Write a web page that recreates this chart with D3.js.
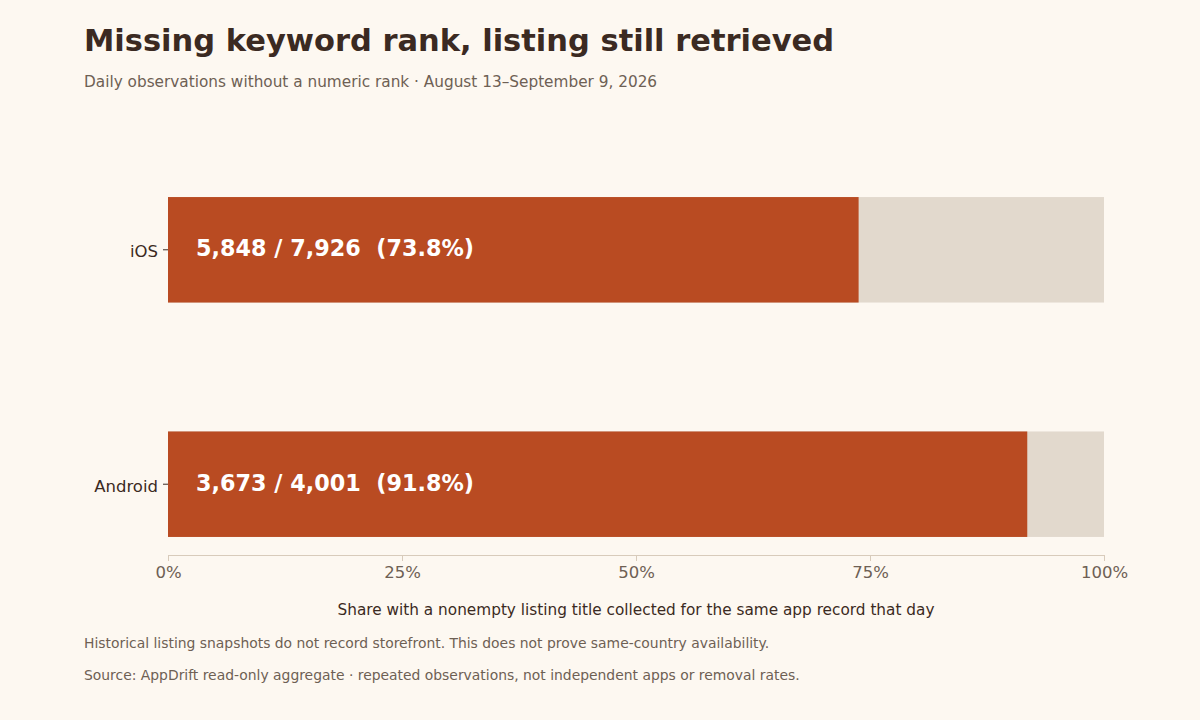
<!DOCTYPE html>
<html lang="en">
<head>
<meta charset="UTF-8">
<title>Missing keyword rank, listing still retrieved</title>
<script src="https://d3js.org/d3.v7.min.js"></script>
<style>
  html, body { margin: 0; padding: 0; background: #fdf8f1; }
  svg { display: block; font-family: "DejaVu Sans", sans-serif; }
  .title { font-size: 30.5px; font-weight: bold; fill: #3b2a22; }
  .subtitle { font-size: 15.3px; fill: #6e6054; }
  .note { font-size: 13.9px; fill: #6e6054; }
  .x-title { font-size: 15.3px; fill: #3b2a22; }
  .bar-label { font-size: 22.3px; font-weight: bold; fill: #ffffff; }
</style>
</head>
<body>
<svg id="chart" width="1200" height="720"></svg>
<script>
// data
const platforms = ["iOS", "Android"];
const retrieved = [5848, 3673];
const totals = [7926, 4001];
const xTicks = [0, 0.25, 0.5, 0.75, 1];

const rows = platforms.map((p, i) => ({
  platform: p,
  hit: retrieved[i],
  total: totals[i],
  share: retrieved[i] / totals[i]
}));

const svg = d3.select("#chart");
const width = 1200, height = 720;
const margin = { top: 179, right: 96, bottom: 165, left: 168 };

svg.append("rect").attr("width", width).attr("height", height).attr("fill", "#fdf8f1");

const x = d3.scaleLinear()
  .domain([0, 1])
  .range([margin.left, width - margin.right]);

const y = d3.scaleBand()
  .domain(platforms)
  .range([margin.top, height - margin.bottom])
  .paddingInner(0.55)
  .paddingOuter(0.077);

// full-width background bars
svg.selectAll(".bg")
  .data(rows)
  .enter().append("rect")
  .attr("class", "bg")
  .attr("x", x(0))
  .attr("y", d => y(d.platform))
  .attr("width", x(1) - x(0))
  .attr("height", y.bandwidth())
  .attr("fill", "#e2d9cd");

svg.selectAll(".bar")
  .data(rows)
  .enter().append("rect")
  .attr("class", "bar")
  .attr("x", x(0))
  .attr("y", d => y(d.platform))
  .attr("width", d => x(d.share) - x(0))
  .attr("height", y.bandwidth())
  .attr("fill", "#b94b22");

const fmt = d3.format(",");
svg.selectAll(".bar-label")
  .data(rows)
  .enter().append("text")
  .attr("class", "bar-label")
  .attr("x", x(0) + 28)
  .attr("y", d => y(d.platform) + y.bandwidth() / 2)
  .attr("dy", "0.3em")
  .attr("xml:space", "preserve")
  .text(d => `${fmt(d.hit)} / ${fmt(d.total)}  (${(d.share * 100).toFixed(1)}%)`);

// x axis
const axisY = height - margin.bottom;
const xAxis = svg.append("g")
  .attr("transform", `translate(0,${axisY})`)
  .call(d3.axisBottom(x).tickValues(xTicks).tickFormat(d3.format(".0%")).tickSize(6).tickSizeOuter(0).tickPadding(5));
xAxis.select(".domain").attr("stroke", "#d8cbbb");
xAxis.selectAll(".tick line").attr("stroke", "#d8cbbb");
xAxis.selectAll(".tick text")
  .attr("fill", "#6e6054")
  .style("font-size", "16.5px")
  .style("font-family", "'DejaVu Sans', sans-serif");

// y axis
const yAxis = svg.append("g")
  .attr("transform", `translate(${margin.left},0)`)
  .call(d3.axisLeft(y).tickSize(5).tickPadding(5));
yAxis.select(".domain").remove();
yAxis.selectAll(".tick line").attr("stroke", "#3b2a22");
yAxis.selectAll(".tick text")
  .attr("fill", "#3b2a22")
  .attr("dy", "0.45em")
  .style("font-size", "16.5px")
  .style("font-family", "'DejaVu Sans', sans-serif");

// texts
svg.append("text").attr("class", "title").attr("x", 84).attr("y", 51)
  .text("Missing keyword rank, listing still retrieved");
svg.append("text").attr("class", "subtitle").attr("x", 84).attr("y", 87)
  .text("Daily observations without a numeric rank · August 13–September 9, 2026");
svg.append("text").attr("class", "x-title")
  .attr("x", (x(0) + x(1)) / 2).attr("y", 615).attr("text-anchor", "middle")
  .text("Share with a nonempty listing title collected for the same app record that day");
svg.append("text").attr("class", "note").attr("x", 84).attr("y", 648)
  .text("Historical listing snapshots do not record storefront. This does not prove same-country availability.");
svg.append("text").attr("class", "note").attr("x", 84).attr("y", 680)
  .text("Source: AppDrift read-only aggregate · repeated observations, not independent apps or removal rates.");
</script>
</body>
</html>
